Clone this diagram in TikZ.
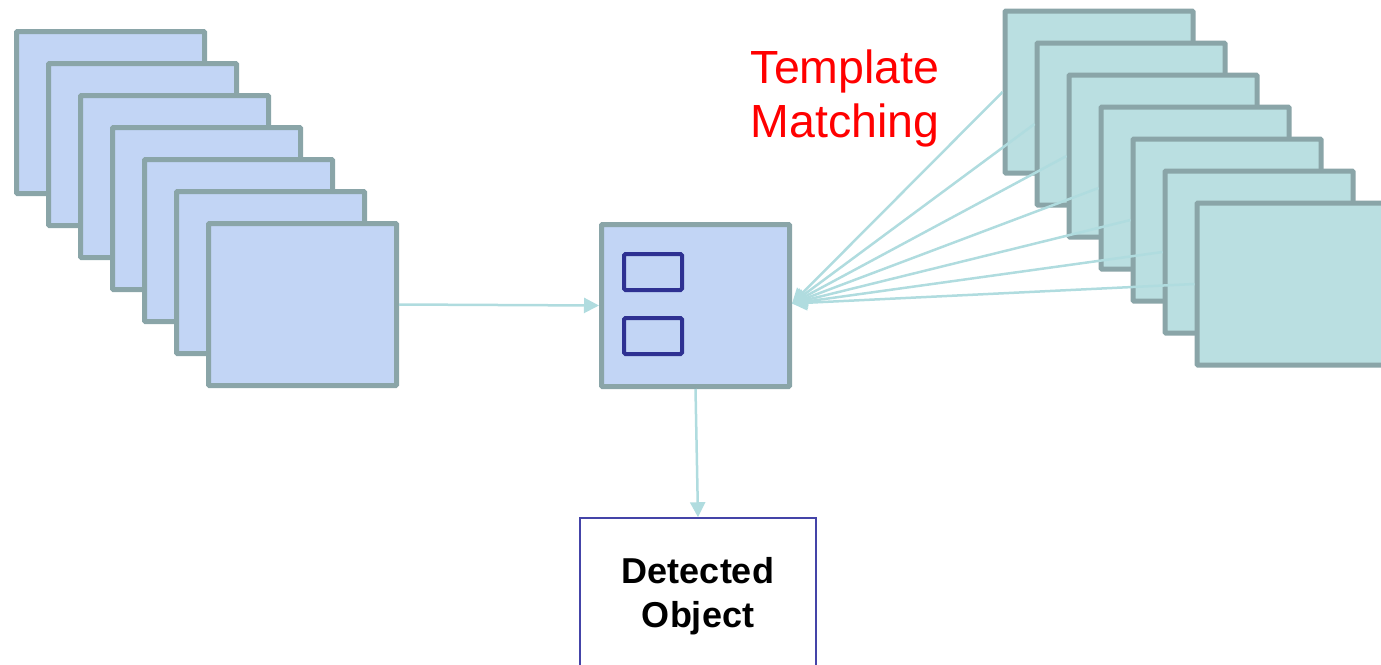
\documentclass[tikz,border=0pt]{standalone}
\usepackage{fontspec}
\setmainfont{Liberation Sans}
\usetikzlibrary{arrows.meta}

\definecolor{frameC}{HTML}{8AA5A8}
\definecolor{frameBlue}{HTML}{C2D5F5}
\definecolor{frameTeal}{HTML}{BADFE1}
\definecolor{linkC}{HTML}{B0DCDF}
\definecolor{markC}{HTML}{2E3192}
\definecolor{outC}{HTML}{4444A8}

\begin{document}
\begin{tikzpicture}[x=1pt,y=-1pt,
  frame/.style={draw=frameC, line width=5pt, inner sep=0pt,
    minimum width=188pt, minimum height=162pt, rounded corners=1pt},
  markbox/.style={draw=markC, line width=4pt, inner sep=0pt,
    minimum width=58pt, minimum height=36pt, rounded corners=1.5pt},
  outbox/.style={draw=outC, line width=1.5pt, fill=white, inner sep=0pt,
    minimum width=236pt, minimum height=156pt, align=center,
    font=\fontsize{36}{44}\selectfont\bfseries},
  tmtext/.style={text=red, inner sep=0pt, anchor=base west,
    font=\fontsize{46.5}{54}\selectfont},
  link/.style={draw=linkC, line width=2.5pt,
    -{Triangle[length=15pt,width=15pt]}}
]
\useasboundingbox (0,0) rectangle (1381,664);
\clip (0,0) rectangle (1381,664);

% input image stack
\foreach \k in {0,...,6}
  \node[frame, fill=frameBlue] (L\k) at (110.5+32*\k, 112.5+32*\k) {};

% template stack
\foreach \k in {0,...,6}
  \node[frame, fill=frameTeal] (R\k) at (1099+32*\k, 92+32*\k) {};

% matching result with two found regions
\node[frame, fill=frameBlue] (C) at (695.5,305.5) {};
\node[markbox] (M1) at (653,272) {};
\node[markbox] (M2) at (653,336) {};

% output
\node[outbox] (D) at (698,596) {Detected\\Object};

% label
\node[tmtext] (T1) at (750.5,83) {Template};
\node[tmtext] (T2) at (750.5,137) {Matching};

% connectors
\coordinate (Cin) at ([yshift=2pt]C.east);
\draw[link] (L6.east) -- (C.west);
\foreach \k in {0,...,6}
  \draw[link] (R\k.west) -- (Cin);
\draw[link] (C.south) -- (D.north);
\end{tikzpicture}
\end{document}
